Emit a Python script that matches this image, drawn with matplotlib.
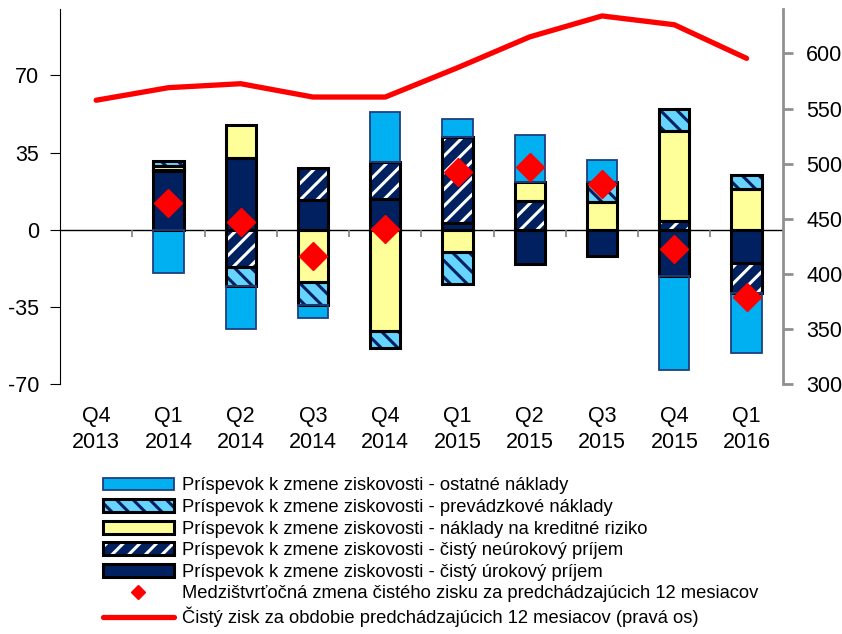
import numpy as np
import matplotlib.pyplot as plt
from matplotlib.patches import Patch
from matplotlib.lines import Line2D

plt.rcParams['font.family'] = ['Liberation Sans', 'DejaVu Sans']
plt.rcParams['hatch.linewidth'] = 2.2
plt.rcParams['axes.unicode_minus'] = False

quarters = ['Q4\n2013', 'Q1\n2014', 'Q2\n2014', 'Q3\n2014', 'Q4\n2014',
            'Q1\n2015', 'Q2\n2015', 'Q3\n2015', 'Q4\n2015', 'Q1\n2016']

# prispevky k zmene ziskovosti (lava os)
urokovy = [np.nan, 26.5, 32.6, 13.6, 14.0, 3.0, -15.6, -11.8, -21.2, -15.2]
neurokovy = [np.nan, 0.5, -17.1, 14.3, 16.6, 39.0, 13.2, np.nan, 4.0, -13.7]
kreditne = [np.nan, 2.0, 15.0, -23.6, -45.9, -10.3, 8.6, 12.7, 41.0, 18.5]
prevadzkove = [np.nan, 2.0, -8.6, -10.5, -7.6, -14.1, np.nan, 9.0, 9.6, 6.5]
ostatne = [np.nan, -19.7, -19.4, -5.8, 23.0, 8.3, 21.2, 9.8, -42.6, -26.9]
zmena = [np.nan, 12.0, 3.3, -11.8, 0.3, 26.4, 28.3, 20.8, -8.8, -30.3]

# cisty zisk za 12 mesiacov (prava os)
zisk = [557.5, 568.9, 572.5, 560.4, 560.4, 587.0, 615.0, 634.0, 626.0, 595.5]

labels = ['Príspevok k zmene ziskovosti - ostatné náklady',
          'Príspevok k zmene ziskovosti - prevádzkové náklady',
          'Príspevok k zmene ziskovosti - náklady na kreditné riziko',
          'Príspevok k zmene ziskovosti - čistý neúrokový príjem',
          'Príspevok k zmene ziskovosti - čistý úrokový príjem',
          'Medzištvrťočná zmena čistého zisku za predchádzajúcich 12 mesiacov',
          'Čistý zisk za obdobie predchádzajúcich 12 mesiacov (pravá os)']

navy = '#002060'
# (hodnoty, vypln, srafovanie, farba srafy, okraj, hrubka okraja)
series = [
    (urokovy, navy, None, navy, 'black', 2.2),
    (neurokovy, navy, '//', 'white', 'black', 2.2),
    (kreditne, '#FFFF99', None, '#FFFF99', 'black', 2.2),
    (prevadzkove, '#66D4FF', '\\\\', navy, 'black', 2.2),
    (ostatne, '#00B0F0', None, '#00B0F0', '#1F3F7F', 1.3),
]

fig = plt.figure(figsize=(8.42, 6.34), dpi=100)
ax = fig.add_axes([0.0713, 0.3943, 0.8583, 0.591])
ax2 = ax.twinx()

x = np.arange(len(quarters))
w = 0.42
pos = np.zeros(len(x))
neg = np.zeros(len(x))
handles = []
for vals, face, hatch, hcol, edge, lw in series:
    v = np.array(vals, dtype=float)
    bottom = np.where(v >= 0, pos, neg)
    ax.bar(x, v, w, bottom=bottom, color=face, hatch=hatch,
           edgecolor=hcol, linewidth=0, zorder=2)
    ax.bar(x, v, w, bottom=bottom, fill=False, edgecolor=edge,
           linewidth=lw, zorder=3)
    v0 = np.nan_to_num(v)
    pos += np.where(v0 > 0, v0, 0)
    neg += np.where(v0 < 0, v0, 0)
    handles.append((Patch(facecolor=face, hatch=hatch, edgecolor=hcol, linewidth=0),
                    Patch(fill=False, edgecolor=edge, linewidth=lw)))

ax.plot(x, zmena, linestyle='none', marker='D', markersize=14,
        color='red', zorder=5)
ax2.plot(x, zisk, color='red', linewidth=3.8, solid_capstyle='round', zorder=4)

ax.set_xlim(-0.5, len(x) - 0.5)
ax.set_ylim(-70, 100)
ax.set_yticks([-70, -35, 0, 35, 70])
ax2.set_ylim(300, 640)
ax2.set_yticks(np.arange(300, 601, 50))

# os x na nule s ciarkami medzi stvrtrokmi
ax.spines['bottom'].set_position(('data', 0))
ax.spines['bottom'].set_linewidth(1.0)
ax.spines['bottom'].set_zorder(1)
ax.set_xticks(x[:-1] + 0.5)
ax.tick_params(axis='x', direction='out', length=5, width=1.2,
               color='#808080', labelbottom=False)
sec = ax.secondary_xaxis('bottom')
sec.set_xticks(x, quarters)
sec.tick_params(length=0, pad=16, labelsize=15.5)
for t in sec.get_xticklabels():
    t.set_linespacing(1.3)
sec.spines['bottom'].set_visible(False)

for s in ['top', 'right']:
    ax.spines[s].set_visible(False)
for s in ['top', 'left', 'bottom']:
    ax2.spines[s].set_visible(False)
ax.tick_params(axis='y', direction='out', length=7, labelsize=15.5, pad=8)
ax2.spines['right'].set_color('#909090')
ax2.spines['right'].set_linewidth(2)
ax2.tick_params(axis='y', direction='out', length=7, width=2, color='#909090',
                labelsize=15.5, pad=10)

handles = handles[::-1]
handles.append(Line2D([], [], linestyle='none', marker='D', markersize=7, color='red'))
handles.append(Line2D([], [], color='red', linewidth=3.8, solid_capstyle='round'))
fig.legend(handles, labels, loc='upper left', bbox_to_anchor=(0.122, 0.247),
           frameon=False, fontsize=13.2, handlelength=3.9, handleheight=0.7,
           handletextpad=0.45, labelspacing=0.25, borderpad=0, borderaxespad=0)

fig.savefig('out.png', dpi=100)
